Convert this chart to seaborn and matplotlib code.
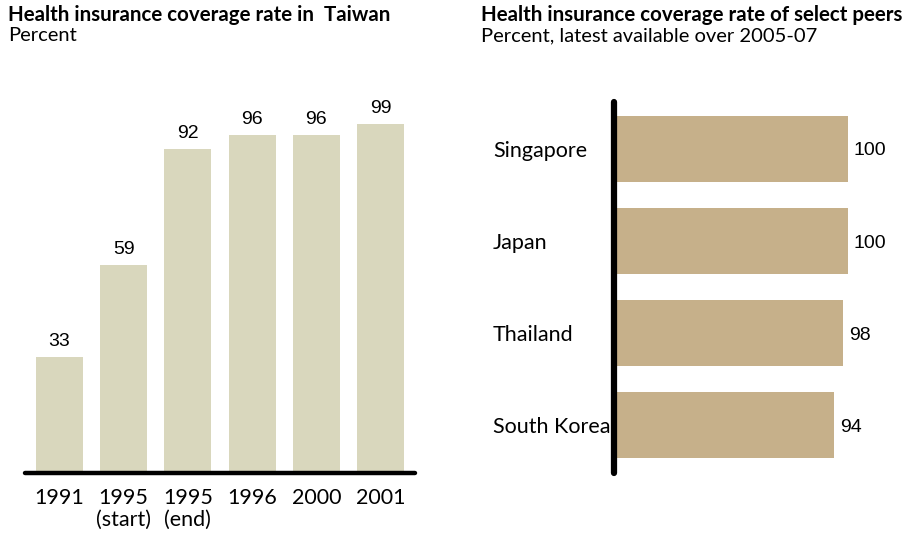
import matplotlib
matplotlib.use("Agg")
import matplotlib.pyplot as plt
import seaborn as sns
import pandas as pd
from matplotlib import transforms

# Taiwan coverage over time
years = ["1991", "1995\n(start)", "1995\n(end)", "1996", "2000", "2001"]
taiwan_rate = [33, 59, 92, 96, 96, 99]

# Peer countries, latest available 2005-07
countries = ["Singapore", "Japan", "Thailand", "South Korea"]
peer_rate = [100, 100, 98, 94]

TEXT_FONT = ["Lato", "DejaVu Sans"]
NUM_FONT = ["Liberation Sans", "DejaVu Sans"]
LEFT_COLOR = "#D9D7BD"
RIGHT_COLOR = "#C6B08A"

sns.set_theme(style="white")
plt.rcParams["font.family"] = TEXT_FONT
plt.rcParams["text.color"] = "black"
plt.rcParams["xtick.color"] = "black"
plt.rcParams["ytick.color"] = "black"

W, H = 907, 533
fig = plt.figure(figsize=(W / 100, H / 100), dpi=100)


def px_rect(x0, y0, x1, y1):
    """Axes rectangle from pixel coordinates (top-left origin)."""
    return [x0 / W, 1 - y1 / H, (x1 - x0) / W, (y1 - y0) / H]


# ---------- Left panel: Taiwan ----------
axL = fig.add_axes(px_rect(25, 473 - 352.5, 415, 473))
df_tw = pd.DataFrame({"year": years, "rate": taiwan_rate})
sns.barplot(data=df_tw, x="year", y="rate", color=LEFT_COLOR, width=0.73,
            saturation=1, ax=axL)
for p in axL.patches:
    p.set_edgecolor("none")
axL.set_xlim(-0.537, 5.537)
axL.set_ylim(0, 100)
axL.set_xlabel("")
axL.set_ylabel("")
axL.set_yticks([])
axL.tick_params(axis="x", length=0, pad=11, labelsize=15.5, labelcolor="black")
for lbl in axL.get_xticklabels():
    lbl.set_fontfamily(TEXT_FONT)
    lbl.set_linespacing(1.1)
for side in ["left", "right", "top"]:
    axL.spines[side].set_visible(False)
axL.spines["bottom"].set_color("black")
axL.spines["bottom"].set_linewidth(3.2)
axL.spines["bottom"].set_capstyle("round")
for cont in axL.containers:
    axL.bar_label(cont, labels=[str(v) for v in taiwan_rate], padding=5,
                  fontsize=14, fontfamily=NUM_FONT, color="black")

# ---------- Right panel: peers ----------
px_per_unit = 2.31
axR = fig.add_axes(px_rect(613.5, 102, 613.5 + 264.5, 473))
df_peer = pd.DataFrame({"country": countries, "rate": peer_rate})
sns.barplot(data=df_peer, y="country", x="rate", color=RIGHT_COLOR,
            width=0.717, saturation=1, orient="h", ax=axR)
for p in axR.patches:
    p.set_edgecolor("none")
axR.set_xlim(-1.5, -1.5 + 264.5 / px_per_unit)
axR.set_ylim(3.52, -0.51)
axR.set_xlabel("")
axR.set_ylabel("")
axR.set_xticks([])
axR.set_yticks(range(len(countries)))
axR.set_yticklabels([])
axR.tick_params(axis="y", length=0)
# Country names, left-aligned in a column to the left of the axis line
name_tf = transforms.blended_transform_factory(fig.transFigure, axR.transData)
for i, name in enumerate(countries):
    axR.text(493 / W, i, name, transform=name_tf, ha="left",
             va="center_baseline", fontsize=15.5, color="black",
             fontfamily=TEXT_FONT, clip_on=False)
for side in ["bottom", "right", "top"]:
    axR.spines[side].set_visible(False)
axR.spines["left"].set_position(("data", -1.5))
axR.spines["left"].set_color("black")
axR.spines["left"].set_linewidth(4.5)
axR.spines["left"].set_capstyle("round")
for cont in axR.containers:
    texts = axR.bar_label(cont, labels=[str(v) for v in peer_rate], padding=4,
                          fontsize=14, fontfamily=NUM_FONT, color="black")
    for t in texts:
        t.set_verticalalignment("center_baseline")

# ---------- Titles ----------
fig.text(8 / W, 1 - 5 / H, "Health insurance coverage rate in  Taiwan",
         fontsize=14.8, fontweight="bold", ha="left", va="top")
fig.text(8 / W, 1 - 27 / H, "Percent", fontsize=14.5, ha="left", va="top")
fig.text(481 / W, 1 - 5 / H, "Health insurance coverage rate of select peers",
         fontsize=14.8, fontweight="bold", ha="left", va="top")
fig.text(481 / W, 1 - 27 / H, "Percent, latest available over 2005-07",
         fontsize=14.5, ha="left", va="top")

fig.savefig("out.png", dpi=100, facecolor="white")
